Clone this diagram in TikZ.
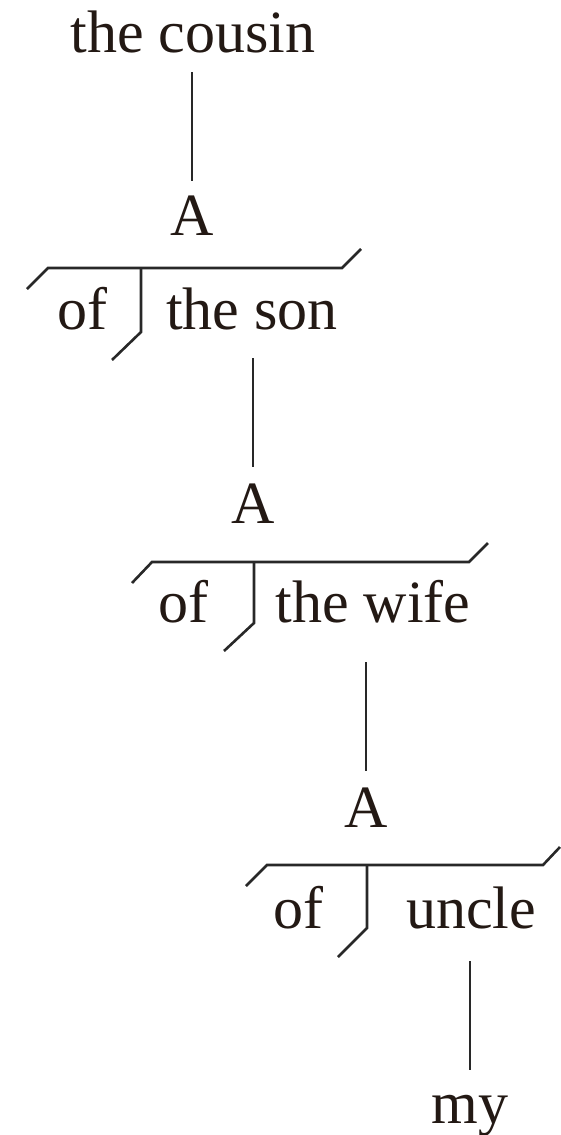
\documentclass[tikz,border=0pt]{standalone}
\usepackage{fontspec}
\setmainfont{Liberation Serif}
\usetikzlibrary{calc}
\definecolor{ink}{RGB}{35,25,20}
\definecolor{rulec}{RGB}{40,40,40}
\begin{document}
\begin{tikzpicture}[x=0.5pt,y=-0.5pt,
  word/.style={anchor=base, inner sep=0pt, text=ink, font=\fontsize{30}{36}\selectfont},
  ln/.style={draw=rulec, line width=1.3pt}]
\useasboundingbox (0,0) rectangle (561,1135);
% words
\node[word] (cousin) at (193,53) {the cousin};
\node[word] (A1) at (192,235) {A};
\node[word] (of1) at (82,329) {of};
\node[word] (son) at (252,329) {the son};
\node[word] (A2) at (253,523) {A};
\node[word] (of2) at (183,622) {of};
\node[word] (wife) at (373,622) {the wife};
\node[word] (A3) at (366,827) {A};
\node[word] (of3) at (298,928) {of};
\node[word] (uncle) at (471,928) {uncle};
\node[word] (my) at (470,1123) {my};
% connectors
\draw[ln] ($(A1.base |- cousin.base)+(0,19)$) -- ($(A1.base)+(0,-54)$);
\draw[ln] ($(A2.base |- son.base)+(0,29)$) -- ($(A2.base)+(0,-56)$);
\draw[ln] ($(A3.base |- wife.base)+(0,40)$) -- ($(A3.base)+(0,-56)$);
\draw[ln] ($(my.base |- uncle.base)+(0,33)$) -- ($(my.base)+(0,-53)$);
% brackets
\draw[ln] (27,289) -- (48,268) -- (342,268) -- (361,249);
\draw[ln] (141,268) -- (141,332) -- (112,360);
\draw[ln] (132,583) -- (152,562) -- (469,562) -- (488,543);
\draw[ln] (254,562) -- (254,623) -- (224,651);
\draw[ln] (246,886) -- (267,865) -- (543,865) -- (560,847);
\draw[ln] (367,865) -- (367,928) -- (338,957);
\end{tikzpicture}
\end{document}
